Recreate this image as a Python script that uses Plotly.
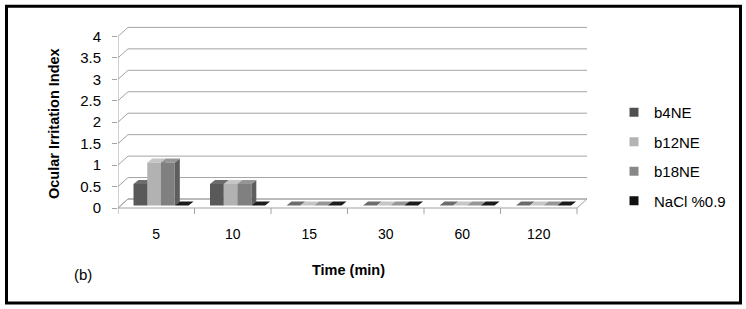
import plotly.graph_objects as go

# ---------------- data ----------------
categories = ["5", "10", "15", "30", "60", "120"]
series_names = ["b4NE", "b12NE", "b18NE", "NaCl %0.9"]
b4NE = [0.5, 0.5, 0, 0, 0, 0]
b12NE = [1.0, 0.5, 0, 0, 0, 0]
b18NE = [1.0, 0.5, 0, 0, 0, 0]
nacl = [0, 0, 0, 0, 0, 0]
y_ticks = [0, 0.5, 1, 1.5, 2, 2.5, 3, 3.5, 4]
y_tick_text = ["0", "0.5", "1", "1.5", "2", "2.5", "3", "3.5", "4"]

series_values = [b4NE, b12NE, b18NE, nacl]
front_cols = ["#595959", "#b2b2b2", "#808080", "#0d0d0d"]
top_cols = ["#6c6c6c", "#c6c6c6", "#969696", "#1c1c1c"]
side_cols = ["#3f3f3f", "#8e8e8e", "#5e5e5e", "#000000"]
legend_cols = ["#505050", "#b3b3b3", "#888888", "#111111"]

# ---------------- geometry (pixel layout) ----------------
W, H = 746, 309
PL, PR = 118, 600          # plot area left / right px
PT, PB = 20, 222           # plot area top / bottom px
PX_X = 76.5                # px per category
Y0_PX = 208                # px of value 0
PX_Y = 42.9                # px per value unit

x_lo = -0.5
x_hi = x_lo + (PR - PL) / PX_X
y_hi = (Y0_PX - PT) / PX_Y
y_lo = (Y0_PX - PB) / PX_Y

DX = 10 / PX_X             # wall depth offset
DY = 9 / PX_Y
BDX = 5 / PX_X             # bar depth
BDY = 4 / PX_Y
BX = 2.5 / PX_X            # bar front shift into depth
BY = 2.5 / PX_Y
BW = 0.18                  # bar width (category units)
G0 = 0.03 - 0.36           # first bar left offset

n = len(categories)
x_left, x_right = -0.5, n - 0.5
grid_col = "#a3a3a3"

fig = go.Figure()

def line(xs, ys, col=grid_col, w=1):
    fig.add_trace(go.Scatter(x=xs, y=ys, mode="lines", line=dict(color=col, width=w),
                             hoverinfo="skip", showlegend=False))

def poly(xs, ys, col, name=None):
    fig.add_trace(go.Scatter(x=xs, y=ys, fill="toself", fillcolor=col, mode="lines",
                             line=dict(width=0, color=col), hoverinfo="skip",
                             showlegend=False, name=name))

# floor fill
fig.add_trace(go.Scatter(x=[x_left, x_right, x_right + DX, x_left + DX, x_left],
                         y=[0, 0, DY, DY, 0], fill="toself", fillcolor="white",
                         mode="lines", line=dict(color=grid_col, width=1),
                         hoverinfo="skip", showlegend=False))
# back wall gridlines (with slanted left side)
gx, gy = [], []
for v in y_ticks:
    gx += [x_left, x_left + DX, x_right + DX, None]
    gy += [v, v + DY, v + DY, None]
line(gx, gy)
# front left axis
line([x_left, x_left], [0, y_ticks[-1]])
# category boundary ticks below floor
tx, ty = [], []
for k in range(n + 1):
    xb = x_left + k
    tx += [xb, xb, None]
    ty += [0, -6 / PX_Y, None]
line(tx, ty)

# bars: sides, then tops, then fronts
def bar_left(i, k):
    return i + G0 + k * BW + BX

for k, vals in enumerate(series_values):
    sx, sy = [], []
    for i, v in enumerate(vals):
        xr = bar_left(i, k) + BW
        sx += [xr, xr + BDX, xr + BDX, xr, xr, None]
        sy += [BY, BY + BDY, BY + v + BDY, BY + v, BY, None]
    poly(sx, sy, side_cols[k])
for k, vals in enumerate(series_values):
    sx, sy = [], []
    for i, v in enumerate(vals):
        xl = bar_left(i, k)
        xr = xl + BW
        sx += [xl, xr, xr + BDX, xl + BDX, xl, None]
        sy += [BY + v, BY + v, BY + v + BDY, BY + v + BDY, BY + v, None]
    poly(sx, sy, top_cols[k])
for k, vals in enumerate(series_values):
    sx, sy = [], []
    for i, v in enumerate(vals):
        if v <= 0:
            continue
        xl = bar_left(i, k)
        xr = xl + BW
        sx += [xl, xr, xr, xl, xl, None]
        sy += [BY, BY, BY + v, BY + v, BY, None]
    if sx:
        poly(sx, sy, front_cols[k], series_names[k])

# legend entries
for k, name in enumerate(series_names):
    fig.add_trace(go.Scatter(x=[None], y=[None], mode="markers", name=name,
                             legendgroup=name,
                             marker=dict(symbol="square", size=9, color=legend_cols[k])))

def px2x(p):
    return (p - PL) / (PR - PL)

def px2y(p):
    return (PB - p) / (PB - PT)

fig.update_layout(
    width=W, height=H,
    margin=dict(l=PL, r=W - PR, t=PT, b=H - PB),
    paper_bgcolor="white", plot_bgcolor="white",
    font=dict(family="Arial, Liberation Sans, sans-serif", color="#000"),
    xaxis=dict(range=[x_lo, x_hi], showgrid=False, zeroline=False, showline=False,
               tickmode="array", tickvals=list(range(n)), ticktext=categories,
               ticks="", tickfont=dict(size=14, color="#000"), ticklabelstandoff=2),
    yaxis=dict(range=[y_lo, y_hi], showgrid=False, zeroline=False, showline=False,
               tickmode="array", tickvals=y_ticks, ticktext=y_tick_text,
               ticks="outside", ticklen=5, tickcolor=grid_col,
               tickfont=dict(size=15, color="#000"), ticklabelstandoff=8),
    legend=dict(x=px2x(614), y=px2y(96), xanchor="left", yanchor="top",
                font=dict(size=15, color="#000"), tracegroupgap=7,
                bgcolor="rgba(0,0,0,0)"),
    showlegend=True,
)

fig.add_annotation(x=px2x(54), y=px2y(124), xref="paper", yref="paper",
                   text="<b>Ocular Irritation Index</b>", textangle=-90, showarrow=False,
                   font=dict(size=14.5, color="#000"), xanchor="center", yanchor="middle")
fig.add_annotation(x=px2x(348), y=px2y(270), xref="paper", yref="paper",
                   text="<b>Time (min)</b>", showarrow=False,
                   font=dict(size=14.5, color="#000"), xanchor="center", yanchor="middle")
fig.add_annotation(x=px2x(83), y=px2y(274), xref="paper", yref="paper",
                   text="(b)", showarrow=False,
                   font=dict(size=15, color="#000"), xanchor="center", yanchor="middle")

fig.add_shape(type="rect", xref="paper", yref="paper",
              x0=px2x(6.5), x1=px2x(740.5), y0=px2y(303), y1=px2y(6.2),
              line=dict(color="#000", width=3), fillcolor="rgba(0,0,0,0)", layer="above")

fig.write_html("out.html")
